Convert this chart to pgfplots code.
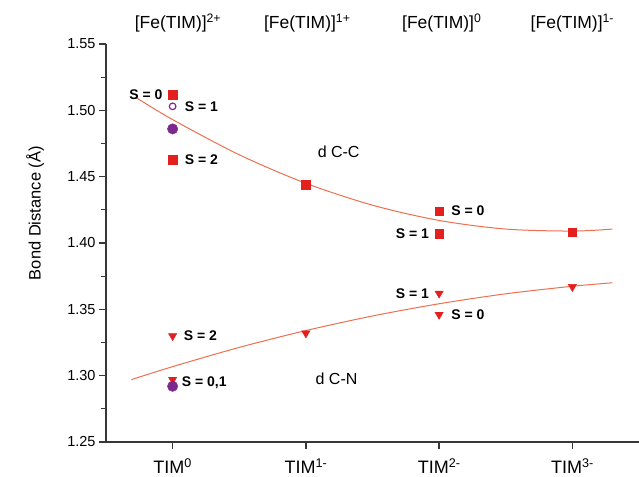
\documentclass[border=0pt]{standalone}
\usepackage{pgfplots}
\pgfplotsset{compat=1.18}
\usepackage{fontspec}
\setmainfont{Liberation Sans}
\setsansfont{Liberation Sans}
\definecolor{mred}{RGB}{228,32,30}
\definecolor{mcurve}{RGB}{238,110,80}
\definecolor{mpurple}{RGB}{125,40,140}
\definecolor{axcol}{RGB}{55,55,55}
\begin{document}
\begin{tikzpicture}
\useasboundingbox (-106bp,-35bp) rectangle (533bp,442bp);
\begin{axis}[
  scale only axis, width=533bp, height=398bp,
  at={(0,0)}, anchor=south west,
  xmin=-0.5, xmax=3.5, ymin=1.25, ymax=1.55,
  axis x line=bottom, axis y line=left,
  axis line style={-, line width=1.6bp, color=axcol},
  tick align=outside,
  major tick length=7bp, minor tick length=5bp,
  every tick/.style={line width=1.3bp, color=axcol},
  xtick={0,1,2,3},
  xticklabels={TIM\textsuperscript{0},TIM\textsuperscript{1-},TIM\textsuperscript{2-},TIM\textsuperscript{3-}},
  xticklabel style={font=\fontsize{18bp}{20bp}\selectfont, yshift=-6bp},
  ytick={1.25,1.30,...,1.56},
  minor y tick num=1,
  yticklabel style={font=\fontsize{14.5bp}{16bp}\selectfont, /pgf/number format/fixed, /pgf/number format/precision=2, /pgf/number format/fixed zerofill},
  /pgf/number format/assume math mode=true,
  ylabel={Bond Distance (Å)},
  ylabel style={at={(axis description cs:-0.133,0.575)}, anchor=center, font=\fontsize{16.5bp}{18bp}\selectfont},
  clip=false,
  label style={color=black},
]
% fitted curves
\addplot[mcurve, line width=1bp, smooth, no marks] coordinates {
 (-0.28,1.510) (0,1.4930) (0.5,1.4665) (1,1.4450) (1.5,1.4285) (2,1.4170) (2.5,1.4105) (3,1.4090) (3.3,1.4105)};
\addplot[mcurve, line width=1bp, smooth, no marks] coordinates {
 (-0.31,1.297) (0,1.3068) (0.5,1.3213) (1,1.3340) (1.5,1.3450) (2,1.3542) (2.5,1.3617) (3,1.3674) (3.3,1.3700)};
% C-C squares
\addplot[only marks, mark=square*, mark size=4.3bp, mred, mark options={draw=mred, fill=mred}] coordinates {
 (0,1.512) (0,1.463) (1,1.444) (2,1.424) (2,1.407) (3,1.408)};
% C-N triangles
\addplot[only marks, mark=triangle*, mark size=4.8bp, mred, mark options={draw=mred, fill=mred, rotate=180}] coordinates {
 (0,1.330) (0,1.297) (1,1.332) (2,1.362) (2,1.346) (3,1.367)};
% purple circles
\addplot[only marks, mark=*, mark size=5.2bp, mark options={draw=mpurple, fill=mpurple}] coordinates {
 (0,1.486) (0,1.292)};
\addplot[only marks, mark=o, mark size=3.3bp, mark options={draw=mpurple, fill=white, line width=1.2bp}] coordinates {
 (0,1.503)};
% labels
\begin{scope}[every node/.style={inner sep=0pt, font=\bfseries\fontsize{14bp}{16bp}\selectfont}]
\node[anchor=east] at (axis cs:0,1.512) [xshift=-10bp] {S = 0};
\node[anchor=west] at (axis cs:0,1.503) [xshift=12bp] {S = 1};
\node[anchor=west] at (axis cs:0,1.463) [xshift=12bp] {S = 2};
\node[anchor=west] at (axis cs:0,1.330) [xshift=11bp] {S = 2};
\node[anchor=west] at (axis cs:0,1.2945) [xshift=9bp] {S = 0,1};
\node[anchor=west] at (axis cs:2,1.424) [xshift=12bp] {S = 0};
\node[anchor=east] at (axis cs:2,1.407) [xshift=-10bp] {S = 1};
\node[anchor=east] at (axis cs:2,1.362) [xshift=-10bp] {S = 1};
\node[anchor=west] at (axis cs:2,1.346) [xshift=12bp] {S = 0};
\end{scope}
\node[font=\fontsize{16bp}{18bp}\selectfont] at (axis cs:1.246,1.4685) {d C-C};
\node[font=\fontsize{16bp}{18bp}\selectfont] at (axis cs:1.23,1.298) {d C-N};
% top labels
\begin{scope}[every node/.style={anchor=base, inner sep=0pt, font=\fontsize{17.5bp}{19bp}\selectfont}]
\node at (axis cs:0.04,1.5615) {[Fe(TIM)]\textsuperscript{2+}};
\node at (axis cs:1.01,1.5615) {[Fe(TIM)]\textsuperscript{1+}};
\node at (axis cs:2.02,1.5615) {[Fe(TIM)]\textsuperscript{0}};
\node at (axis cs:3.0,1.5615) {[Fe(TIM)]\textsuperscript{1-}};
\end{scope}
\end{axis}
\end{tikzpicture}
\end{document}
